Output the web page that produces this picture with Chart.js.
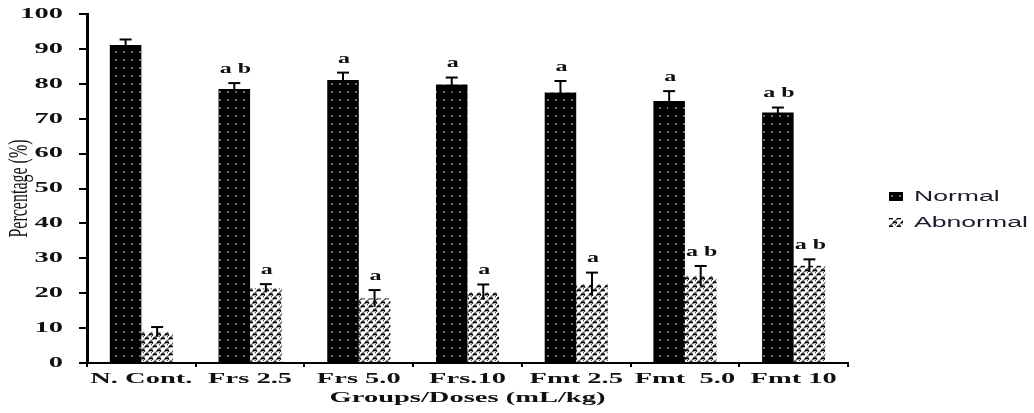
<!DOCTYPE html>
<html><head><meta charset="utf-8">
<script src="https://cdn.jsdelivr.net/npm/chart.js"></script>
<style>html,body{margin:0;padding:0;background:#fff}canvas{display:block}</style>
</head><body>
<canvas id="c" width="1034" height="413"></canvas>
<script>
// ---- data ----
const categories = ["N. Cont.", "Frs 2.5", "Frs 5.0", "Frs.10", "Fmt 2.5", "Fmt  5.0", "Fmt 10"];
const normalValues   = [91.1, 78.5, 81.1, 79.8, 77.5, 75.1, 71.8];
const normalErrors   = [1.6, 1.7, 2.1, 2.0, 3.3, 2.8, 1.4];
const abnormalValues = [8.9, 21.4, 18.5, 20.3, 22.6, 24.9, 27.9];
const abnormalErrors = [1.4, 1.2, 2.4, 2.2, 3.3, 2.9, 1.8];
const normalLetters   = ["", "a b", "a", "a", "a", "a", "a b"];
const abnormalLetters = ["", "a", "a", "a", "a", "a b", "a b"];
const seriesNames = ["Normal", "Abnormal"];
const yMin = 0, yMax = 100, yStep = 10;
const xTitle = "Groups/Doses (mL/kg)";
const yTitle = "Percentage (%)";

// ---- patterns ----
function makeDots() {
  const c = document.createElement('canvas'); c.width = 8; c.height = 8;
  const g = c.getContext('2d');
  g.fillStyle = '#000'; g.fillRect(0, 0, 8, 8);
  g.fillStyle = '#707070'; g.fillRect(3, 3, 2, 2);
  return g.createPattern(c, 'repeat');
}
function makeZigzag() {
  const c = document.createElement('canvas'); c.width = 8; c.height = 8;
  const g = c.getContext('2d');
  g.fillStyle = '#fff'; g.fillRect(0, 0, 8, 8);
  g.strokeStyle = '#5a5a5a'; g.lineWidth = 1.5;
  g.beginPath(); g.moveTo(0, 4); g.lineTo(4, 0); g.moveTo(4, 8); g.lineTo(8, 4);
  g.moveTo(-1, 9); g.lineTo(1, 7); g.moveTo(7, 1); g.lineTo(9, -1); g.stroke();
  g.fillStyle = '#000';
  g.fillRect(1, 1.5, 4, 1.8);
  g.fillRect(5, 5.5, 3, 1.8); g.fillRect(0, 5.5, 1, 1.8);
  return g.createPattern(c, 'repeat');
}
const dotPat = makeDots();
const zigPat = makeZigzag();

// ---- horizontally stretched text (the reference typography is widened) ----
const STRETCH = 1.9;
function withStretch(ctx, sx, sy, fn) {
  const own = Object.prototype.hasOwnProperty.call(ctx, 'fillText');
  const orig = ctx.fillText;
  ctx.fillText = function (text, x, y, maxWidth) {
    this.save(); this.translate(x, y); this.scale(sx, sy);
    if (maxWidth === undefined) orig.call(this, text, 0, 0); else orig.call(this, text, 0, 0, maxWidth);
    this.restore();
  };
  try { fn(); } finally { if (own) ctx.fillText = orig; else delete ctx.fillText; }
}

class WideCategoryScale extends Chart.CategoryScale {
  drawLabels(area) { withStretch(this.ctx, STRETCH, 1, () => super.drawLabels(area)); }
  drawTitle() { withStretch(this.ctx, STRETCH, 1, () => super.drawTitle()); }
}
WideCategoryScale.id = 'wideCategory';
WideCategoryScale.defaults = Chart.CategoryScale.defaults;
class WideLinearScale extends Chart.LinearScale {
  drawLabels(area) { withStretch(this.ctx, STRETCH, 1, () => super.drawLabels(area)); }
  drawTitle() { withStretch(this.ctx, 1, 1.75, () => super.drawTitle()); }
}
WideLinearScale.id = 'wideLinear';
WideLinearScale.defaults = Chart.LinearScale.defaults;
Chart.register(WideCategoryScale, WideLinearScale);

// ---- plugins ----
const errorBars = {
  id: 'errorBars',
  afterDatasetsDraw(chart) {
    const ctx = chart.ctx, y = chart.scales.y;
    const errs = [normalErrors, abnormalErrors];
    const vals = [normalValues, abnormalValues];
    const letters = [normalLetters, abnormalLetters];
    ctx.save();
    chart.data.datasets.forEach((ds, i) => {
      const meta = chart.getDatasetMeta(i);
      meta.data.forEach((bar, j) => {
        const top = y.getPixelForValue(vals[i][j] + errs[i][j]);
        const bot = y.getPixelForValue(vals[i][j] - errs[i][j]);
        ctx.strokeStyle = '#000'; ctx.lineWidth = 2;
        ctx.beginPath(); ctx.moveTo(bar.x, bot); ctx.lineTo(bar.x, top); ctx.stroke();
        ctx.beginPath(); ctx.moveTo(bar.x - 6, top); ctx.lineTo(bar.x + 6, top); ctx.stroke();
        const t = letters[i][j];
        if (t) {
          ctx.save();
          ctx.font = 'bold 15px "Liberation Serif"';
          ctx.fillStyle = '#111';
          ctx.textAlign = 'center'; ctx.textBaseline = 'middle';
          ctx.translate(bar.x + 1, top - 14);
          ctx.scale(1.6, 1);
          ctx.fillText(t, 0, 0);
          ctx.restore();
        }
      });
    });
    ctx.restore();
  }
};
const sideLegend = {
  id: 'sideLegend',
  afterDraw(chart) {
    const ctx = chart.ctx;
    const fills = [dotPat, zigPat];
    const ys = [197, 223];
    ctx.save();
    seriesNames.forEach((name, i) => {
      ctx.fillStyle = fills[i];
      ctx.fillRect(889, ys[i] - 5, 14, 9);
      ctx.save();
      ctx.fillStyle = '#1c1c2c';
      ctx.font = '14px "Liberation Sans"';
      ctx.textAlign = 'left'; ctx.textBaseline = 'middle';
      ctx.translate(914, ys[i]);
      ctx.scale(STRETCH, 1);
      ctx.fillText(name, 0, 0);
      ctx.restore();
    });
    ctx.restore();
  }
};

new Chart(document.getElementById('c'), {
  type: 'bar',
  data: {
    labels: categories,
    datasets: [
      { label: seriesNames[0], data: normalValues, backgroundColor: dotPat, borderWidth: 0,
        categoryPercentage: 0.58, barPercentage: 1.0 },
      { label: seriesNames[1], data: abnormalValues, backgroundColor: zigPat, borderWidth: 0,
        categoryPercentage: 0.58, barPercentage: 1.0 }
    ]
  },
  options: {
    responsive: false,
    animation: false,
    devicePixelRatio: 1,
    layout: { padding: { left: 0, top: 14, right: 186, bottom: 0 } },
    plugins: { legend: { display: false }, tooltip: { enabled: false } },
    scales: {
      x: {
        type: 'wideCategory',
        offset: true,
        afterFit: s => { s.height = 50; s.paddingLeft = 0; s.paddingRight = 0; },
        grid: { offset: true, drawOnChartArea: false, color: '#000', lineWidth: 2, tickLength: 4 },
        border: { color: '#000', width: 2 },
        ticks: { color: '#111', font: { family: 'Liberation Serif', weight: 'bold', size: 15 },
                 padding: 3, maxRotation: 0, autoSkip: false },
        title: { display: true, text: xTitle, color: '#111',
                 font: { family: 'Liberation Serif', weight: 'bold', size: 15 }, padding: { top: 0, bottom: 6 } }
      },
      y: {
        type: 'wideLinear',
        min: yMin, max: yMax,
        afterFit: s => { s.width = 87; s.paddingTop = 0; s.paddingBottom = 0; },
        grid: { drawOnChartArea: false, color: '#000', lineWidth: 2, tickLength: 8 },
        border: { color: '#000', width: 3 },
        ticks: { stepSize: yStep, color: '#111', font: { family: 'Liberation Serif', weight: 'bold', size: 15 }, padding: 16 },
        title: { display: true, text: yTitle, color: '#111',
                 font: { family: 'Liberation Serif', size: 16 }, padding: { top: 10, bottom: 0 } }
      }
    }
  },
  plugins: [errorBars, sideLegend]
});
</script>
</body></html>
